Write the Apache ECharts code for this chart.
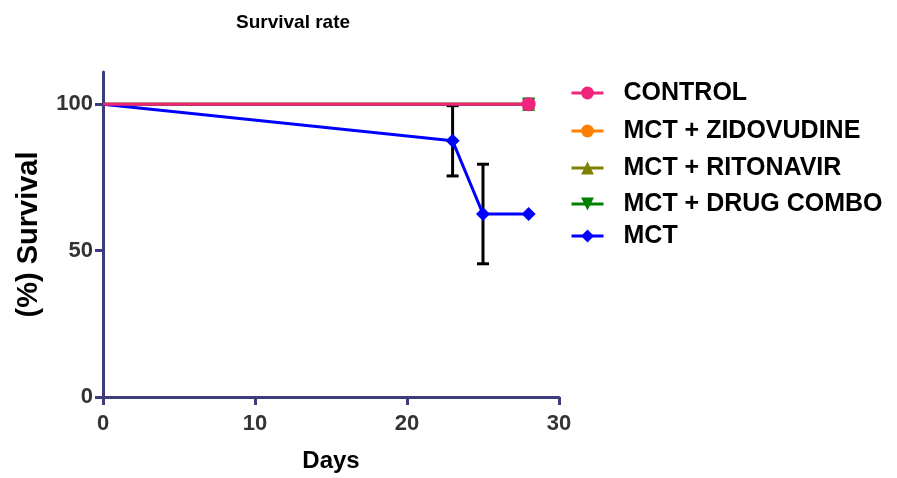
<!DOCTYPE html>
<html>
<head>
<meta charset="utf-8">
<script src="https://cdn.jsdelivr.net/npm/echarts@6/dist/echarts.min.js"></script>
<style>
  html, body { margin: 0; padding: 0; background: #fff; }
  #chart { width: 897px; height: 478px; }
</style>
</head>
<body>
<div id="chart"></div>
<script>
// days on x, % survival on y
const controlData = [[0, 100], [28, 100]];
const zidovudineData = [[0, 100], [28, 100]];
const ritonavirData = [[0, 100], [28, 100]];
const comboData = [[0, 100], [28, 100]];
const mctData = [[0, 100], [23, 87.5], [25, 62.5], [28, 62.5]];

// error bars: [day, low, high]
const mctErr = [[23, 75.5, 99.5], [25, 45.5, 79.5]];
const comboErr = [[28, 98.2, 101.8]];

const yTicks = [0, 50, 100];

const font = 'Liberation Sans, Arial, sans-serif';
const axisColor = '#3d3d7d';

const chart = echarts.init(document.getElementById('chart'));

// no marker on day 0
const sizeFn = (s) => (v) => (v[0] === 0 ? 0 : s);

const errSeries = (data, color, z) => ({
  type: 'custom',
  z: z,
  silent: true,
  data: data,
  renderItem: (params, api) => {
    const top = api.coord([api.value(0), api.value(2)]);
    const bot = api.coord([api.value(0), api.value(1)]);
    const w = 6;
    const st = { stroke: color, lineWidth: 3 };
    return {
      type: 'group',
      children: [
        { type: 'line', shape: { x1: top[0], y1: top[1], x2: bot[0], y2: bot[1] }, style: st },
        { type: 'line', shape: { x1: top[0] - w, y1: top[1], x2: top[0] + w, y2: top[1] }, style: st },
        { type: 'line', shape: { x1: bot[0] - w, y1: bot[1], x2: bot[0] + w, y2: bot[1] }, style: st }
      ]
    };
  }
});

const lineSeries = (name, data, color, symbol, size, z) => ({
  name: name,
  type: 'line',
  data: data,
  z: z,
  symbol: symbol,
  symbolSize: sizeFn(size),
  showAllSymbol: true,
  lineStyle: { color: color, width: 3 },
  itemStyle: { color: color },
  emphasis: { disabled: true }
});

const names = ['CONTROL', 'MCT + ZIDOVUDINE', 'MCT + RITONAVIR', 'MCT + DRUG COMBO', 'MCT'];
const legendY = [93, 131, 168, 204, 236];

const option = {
  animation: false,
  backgroundColor: '#fff',
  title: {
    text: 'Survival rate',
    left: 231,
    top: 8,
    textStyle: { fontFamily: font, fontWeight: 'bold', fontSize: 19, color: '#000' }
  },
  legend: names.map((n, i) => ({
    data: [n],
    left: 570,
    top: legendY[i] - 15,
    padding: 0,
    itemWidth: 32,
    itemHeight: 16,
    lineStyle: { width: 3 },
    textStyle: {
      fontFamily: font, fontWeight: 'bold', fontSize: 25, color: '#000',
      lineHeight: 30, padding: [0, 0, 0, 15]
    }
  })),
  grid: { left: 103, right: 338, top: 72, bottom: 81 },
  xAxis: {
    type: 'value',
    min: 0, max: 30, interval: 10,
    name: 'Days',
    nameLocation: 'middle',
    nameGap: 52,
    nameTextStyle: { fontFamily: font, fontWeight: 'bold', fontSize: 24, color: '#000' },
    axisLine: { lineStyle: { color: axisColor, width: 3 } },
    axisTick: { length: 8, lineStyle: { color: axisColor, width: 3 } },
    axisLabel: { margin: 16, fontFamily: font, fontWeight: 'bold', fontSize: 22, color: '#333' },
    splitLine: { show: false }
  },
  yAxis: {
    type: 'value',
    min: 0, max: 111,
    name: '(%) Survival',
    nameLocation: 'middle',
    nameGap: 60,
    nameTextStyle: { fontFamily: font, fontWeight: 'bold', fontSize: 29, color: '#000' },
    axisLine: { show: true, lineStyle: { color: axisColor, width: 3 } },
    axisTick: { show: true, length: 8, customValues: yTicks, lineStyle: { color: axisColor, width: 3 } },
    axisLabel: { margin: 10, customValues: yTicks, fontFamily: font, fontWeight: 'bold', fontSize: 22, color: '#333' },
    splitLine: { show: false }
  },
  series: [
    lineSeries('MCT + ZIDOVUDINE', zidovudineData, '#ff8000', 'circle', 12, 2),
    lineSeries('MCT + RITONAVIR', ritonavirData, '#808000', 'triangle', 12, 2),
    errSeries(comboErr, '#008000', 2),
    lineSeries('MCT + DRUG COMBO', comboData, '#008000', 'path://M0,0 L10,0 L5,10 Z', 12, 3),
    errSeries(mctErr, '#000', 4),
    lineSeries('MCT', mctData, '#0000ff', 'diamond', 14, 5),
    lineSeries('CONTROL', controlData, '#f0237d', 'circle', 14, 7)
  ]
};

chart.setOption(option);
</script>
</body>
</html>
